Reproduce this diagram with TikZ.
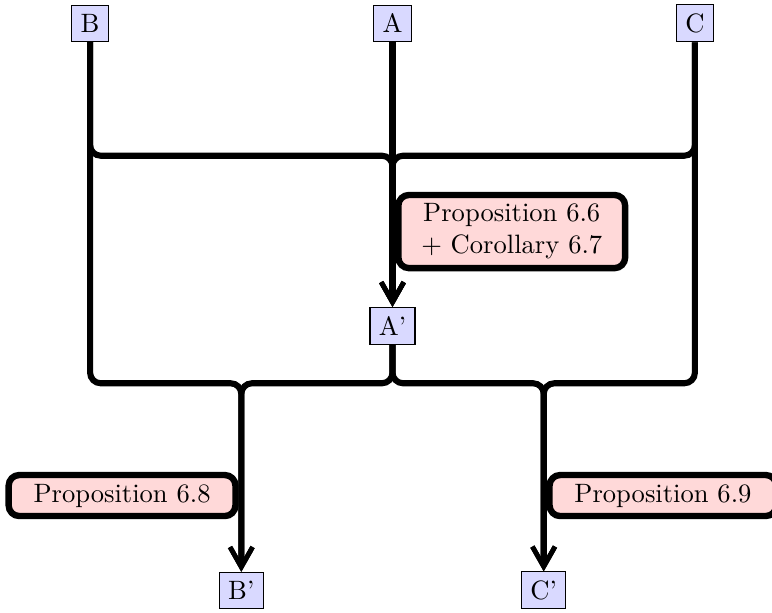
\documentclass[tikz,border=0pt]{standalone}
\usetikzlibrary{arrows.meta}
\tikzset{
  varbox/.style={draw, fill=blue!15, inner sep=3.33pt},
  propbox/.style={draw, fill=red!15, line width=2.4pt, rounded corners=4pt, minimum width=3cm, align=center, outer sep=0pt},
  conn/.style={line width=2.3pt, rounded corners=4pt},
  connarrow/.style={conn, -{Straight Barb[length=7.5pt, width=8.5pt, line width=1.8pt]}}
}
\begin{document}
\begin{tikzpicture}
\useasboundingbox (-5.192,-7.786) rectangle (5.020,0.310);
\node[varbox] (A) at (0,0) {A};
\node[varbox] (B) at (-4,0) {B};
\node[varbox] (C) at (4,0) {C};
\node[varbox] (Ap) at (0,-4) {A'};
\node[varbox] (Bp) at (-2,-7.5) {B'};
\node[varbox] (Cp) at (2,-7.5) {C'};
\coordinate (jt) at (0,-1.75);
\coordinate (jl) at (-2,-4.76);
\coordinate (jr) at (2,-4.76);
\draw[connarrow] (B) |- (jt) -- (Ap);
\draw[connarrow] (C) |- (jt) -- (Ap);
\draw[connarrow] (A) -- (Ap);
\draw[connarrow] (B) |- (jl) -- (Bp);
\draw[connarrow] (Ap) |- (jl) -- (Bp);
\draw[connarrow] (Ap) |- (jr) -- (Cp);
\draw[connarrow] (C) |- (jr) -- (Cp);
\node[propbox, anchor=west] (P66) at ([xshift=2.2pt]0,-2.753) {Proposition 6.6\\+ Corollary 6.7};
\node[propbox, anchor=east] (P68) at ([xshift=-2.2pt]-2,-6.245) {Proposition 6.8};
\node[propbox, anchor=west] (P69) at ([xshift=2.2pt]2,-6.245) {Proposition 6.9};
\end{tikzpicture}
\end{document}
